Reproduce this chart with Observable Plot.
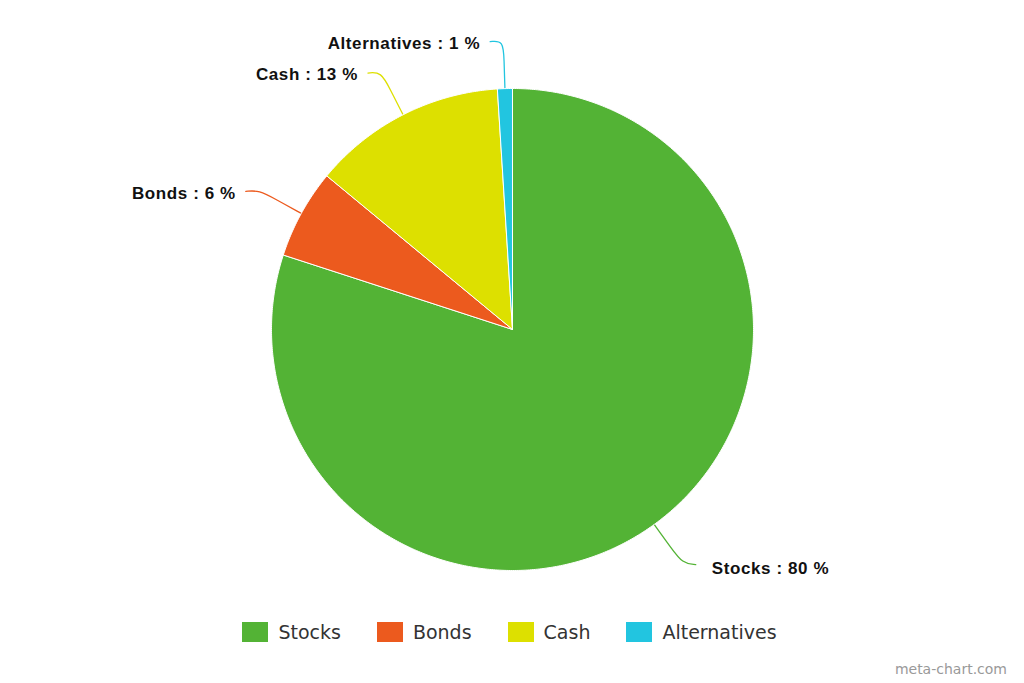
<!DOCTYPE html>
<html>
<head>
<meta charset="utf-8">
<script src="https://cdn.jsdelivr.net/npm/d3@7"></script>
<script src="https://cdn.jsdelivr.net/npm/@observablehq/plot@0.6"></script>
<style>
  html, body { margin: 0; padding: 0; background: #fff; }
  #wrap { position: relative; width: 1024px; height: 683px; overflow: hidden; }
  #legend { display: flex; justify-content: center; align-items: center; gap: 36px;
    font-family: "DejaVu Sans", sans-serif; font-size: 19px; color: #333; padding-top: 16px; margin-left: -5px; }
  .item { display: flex; align-items: center; gap: 10px; }
  .sw { width: 26px; height: 20px; display: inline-block; }
  #credit { position: absolute; right: 17px; bottom: 6px; font-family: "DejaVu Sans", sans-serif;
    font-size: 14px; color: #999; }
</style>
</head>
<body>
<div id="wrap">
  <div id="chart"></div>
  <div id="legend"></div>
  <div id="credit">meta-chart.com</div>
</div>
<script>
const categories = ["Stocks", "Bonds", "Cash", "Alternatives"];
const values = [80, 6, 13, 1];
const colors = ["#53b335", "#ec5a1e", "#dde000", "#22c5e0"];

const total = d3.sum(values);
// angles clockwise from 12 o'clock
let acc = 0;
const slices = categories.map((name, i) => {
  const a0 = acc / total * 2 * Math.PI;
  acc += values[i];
  const a1 = acc / total * 2 * Math.PI;
  return {name, value: values[i], a0, a1, mid: (a0 + a1) / 2};
});

const pt = (a, r) => [Math.sin(a) * r, Math.cos(a) * r];

// slice polygons
const poly = [];
for (const s of slices) {
  poly.push({name: s.name, x: 0, y: 0});
  const n = Math.max(2, Math.ceil((s.a1 - s.a0) / (Math.PI / 360)));
  for (let k = 0; k <= n; k++) {
    const [x, y] = pt(s.a0 + (s.a1 - s.a0) * k / n, 1);
    poly.push({name: s.name, x, y});
  }
  poly.push({name: s.name, x: 0, y: 0});
}

// leader lines
const leaders = [];
const labels = [];
for (const s of slices) {
  const side = Math.sin(s.mid) >= 0 ? 1 : -1;
  const [x0, y0] = pt(s.mid, 1.0);
  const [x1, y1] = pt(s.mid, 1.12);
  const [x2, y2] = pt(s.mid, 1.2);
  const x3 = x2 + side * 0.055, y3 = y2 - 0.005;
  leaders.push({name: s.name, x: x0, y: y0}, {name: s.name, x: x1, y: y1},
               {name: s.name, x: x2, y: y2}, {name: s.name, x: x3, y: y3});
  labels.push({name: s.name, side, x: x3, y: y3, text: `${s.name} : ${s.value} %`});
}

const chart = Plot.plot({
  width: 1024,
  height: 605,
  margin: 0,
  x: {domain: [-1, 1], range: [271, 753], axis: null},
  y: {domain: [-1, 1], range: [570, 88], axis: null},
  color: {domain: categories, range: colors},
  marks: [
    Plot.line(leaders, {x: "x", y: "y", z: "name", stroke: "name", strokeWidth: 1.3, curve: "basis"}),
    Plot.line(poly, {x: "x", y: "y", z: "name", fill: "name", stroke: "white", strokeWidth: 1, strokeLinejoin: "round", curve: "linear"}),
    Plot.text(labels.filter(d => d.side > 0), {x: "x", y: "y", text: "text", textAnchor: "start", dx: 16, dy: 4,
      fontFamily: "Liberation Sans, Arial, sans-serif", fontWeight: "bold", fontSize: 17, fill: "#111"}),
    Plot.text(labels.filter(d => d.side < 0), {x: "x", y: "y", text: "text", textAnchor: "end", dx: -10, dy: 2,
      fontFamily: "Liberation Sans, Arial, sans-serif", fontWeight: "bold", fontSize: 17, fill: "#111"})
  ]
});
chart.querySelectorAll("text").forEach(t => t.style.letterSpacing = "0.6px");
document.getElementById("chart").appendChild(chart);

const legend = document.getElementById("legend");
categories.forEach((c, i) => {
  const item = document.createElement("div");
  item.className = "item";
  const sw = document.createElement("span");
  sw.className = "sw";
  sw.style.background = colors[i];
  const lab = document.createElement("span");
  lab.textContent = c;
  item.appendChild(sw);
  item.appendChild(lab);
  legend.appendChild(item);
});
</script>
</body>
</html>
